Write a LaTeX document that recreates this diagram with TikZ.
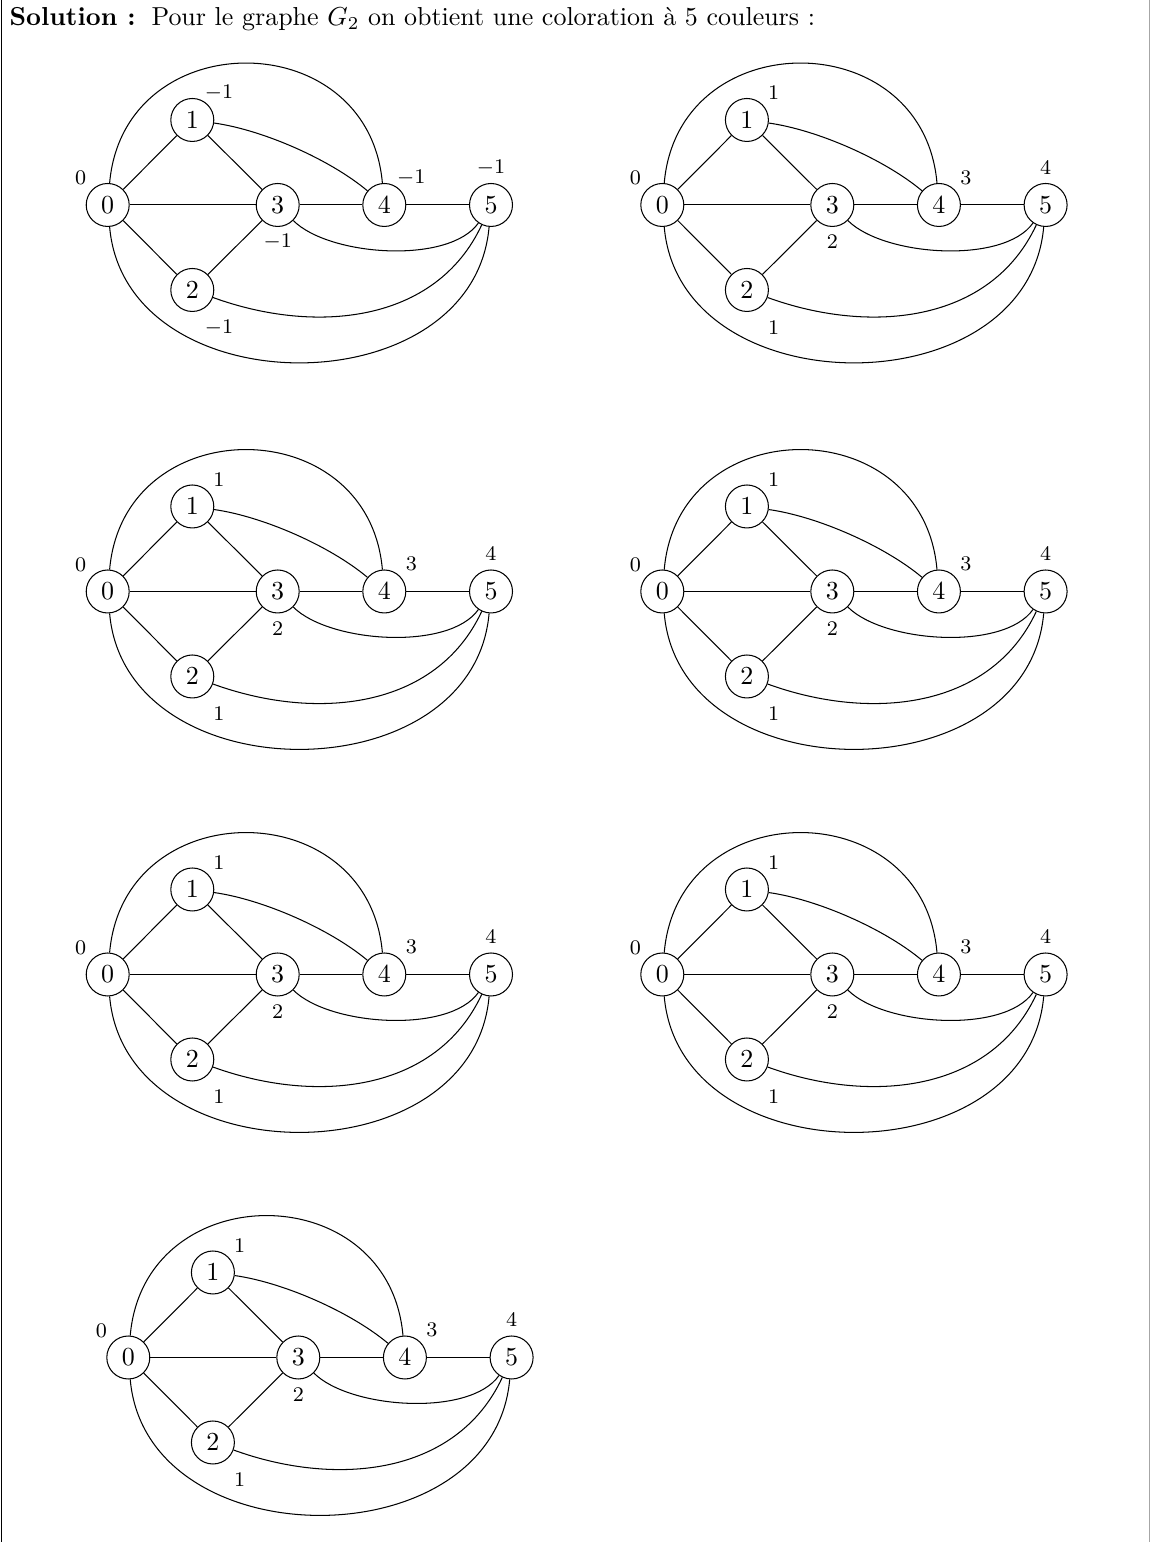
\documentclass[tikz,border=0pt]{standalone}
\tikzset{
  vtx/.style={circle,draw,line width=0.4pt,minimum size=16.55pt,inner sep=0pt,font=\normalsize},
  lbl/.style={inner sep=0pt,font=\footnotesize},
  edg/.style={line width=0.4pt}
}
\newcommand\graphG[9]{%
\begin{scope}[shift={(#2,#3)}]
\node[vtx] (#1-0) at (0,0) {$0$};
\node[vtx] (#1-1) at (84.6,85) {$1$};
\node[vtx] (#1-2) at (84.6,-85) {$2$};
\node[vtx] (#1-3) at (170,0) {$3$};
\node[vtx] (#1-4) at (276.6,0) {$4$};
\node[vtx] (#1-5) at (383.3,0) {$5$};
\node[lbl] (#1-l0) at (-27,27) {#4};
\node[lbl] (#1-l1) at (111.3,112) {#5};
\node[lbl] (#1-l2) at (111.3,-122.5) {#6};
\node[lbl] (#1-l3) at (170,-37) {#7};
\node[lbl] (#1-l4) at (303.6,27.5) {#8};
\node[lbl] (#1-l5) at (383.3,37.5) {#9};
\draw[edg] (#1-0) -- (#1-1);
\draw[edg] (#1-0) -- (#1-3);
\draw[edg] (#1-0) -- (#1-2);
\draw[edg] (#1-1) -- (#1-3);
\draw[edg] (#1-2) -- (#1-3);
\draw[edg] (#1-3) -- (#1-4);
\draw[edg] (#1-4) -- (#1-5);
\draw[edg] (#1-0) to[out=85,in=95,looseness=1.51] (#1-4);
\draw[edg] (#1-0) to[out=-85,in=-95,looseness=1.23] (#1-5);
\draw[edg] (#1-1) to[out=-8,in=140,looseness=0.75] (#1-4);
\draw[edg] (#1-3) to[out=-45,in=-125,looseness=0.7] (#1-5);
\draw[edg] (#1-2) to[out=-20,in=-115] (#1-5);
\end{scope}}
\begin{document}
\begin{tikzpicture}[x=0.385pt,y=0.385pt]
\useasboundingbox (0,0) rectangle (1150,1542);
\coordinate (fl1) at (1.5,0);
\coordinate (fl2) at (1.5,1542);
\coordinate (fr1) at (1149,0);
\coordinate (fr2) at (1149,1542);
\draw[line width=0.5pt] (fl1) -- (fl2);
\draw[line width=0.4pt,black!35] (fr1) -- (fr2);
\node[anchor=base west,inner sep=0pt] (sol) at (9,1516) {\textbf{Solution :}};
\node[anchor=base west,inner sep=0pt] (txt) at (151,1516) {Pour le graphe $G_2$ on obtient une coloration à 5 couleurs :};
\graphG{a}{107.7}{1337}{$0$}{$-1$}{$-1$}{$-1$}{$-1$}{$-1$}
\graphG{b}{662.3}{1337}{$0$}{$1$}{$1$}{$2$}{$3$}{$4$}
\graphG{c}{107.7}{950.5}{$0$}{$1$}{$1$}{$2$}{$3$}{$4$}
\graphG{d}{662.3}{950.5}{$0$}{$1$}{$1$}{$2$}{$3$}{$4$}
\graphG{e}{107.7}{567.5}{$0$}{$1$}{$1$}{$2$}{$3$}{$4$}
\graphG{f}{662.3}{567.5}{$0$}{$1$}{$1$}{$2$}{$3$}{$4$}
\graphG{g}{128.3}{184.5}{$0$}{$1$}{$1$}{$2$}{$3$}{$4$}
\end{tikzpicture}
\end{document}
